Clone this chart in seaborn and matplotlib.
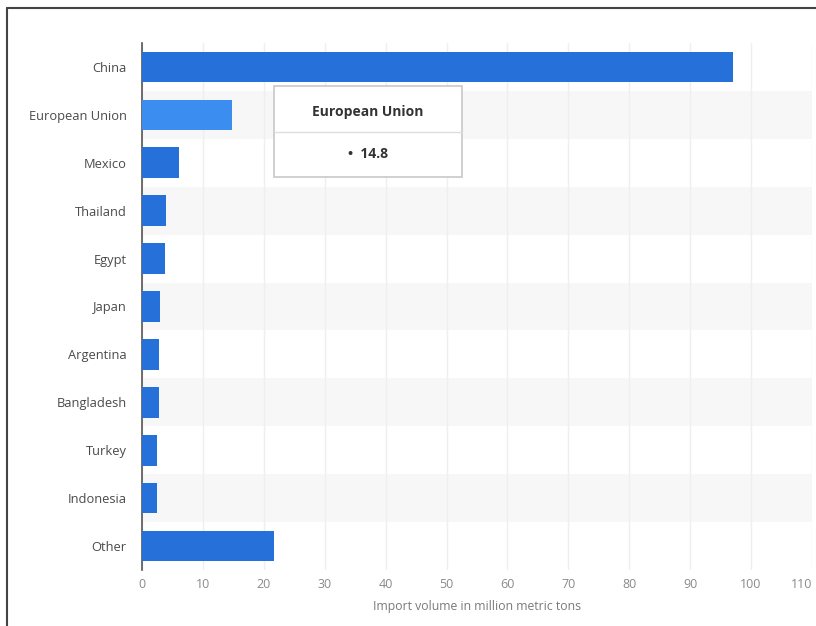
import matplotlib
matplotlib.use("Agg")
import matplotlib.pyplot as plt
import seaborn as sns
import pandas as pd
from matplotlib.patches import Rectangle
from matplotlib.lines import Line2D

countries = ["China", "European Union", "Mexico", "Thailand", "Egypt", "Japan",
             "Argentina", "Bangladesh", "Turkey", "Indonesia", "Other"]
volumes = [97.0, 14.8, 6.1, 3.9, 3.8, 3.0, 2.8, 2.8, 2.4, 2.4, 21.6]
x_ticks = [0, 10, 20, 30, 40, 50, 60, 70, 80, 90, 100, 110]
x_label = "Import volume in million metric tons"
highlight = "European Union"

sns.set_theme(style="white")
plt.rcParams['font.family'] = ['Open Sans', 'DejaVu Sans']

W, H = 816, 626
fig = plt.figure(figsize=(W / 100, H / 100), dpi=100)
ax = fig.add_axes([142 / W, 1 - 570 / H, (812 - 142) / W, (570 - 43) / H])

df = pd.DataFrame({"country": countries, "volume": volumes})
main_c = "#2571d9"
hi_c = "#3b8ef0"
palette = {c: (hi_c if c == highlight else main_c) for c in countries}

# alternating row bands
for i in range(len(countries)):
    if i % 2 == 1:
        ax.axhspan(i - 0.5, i + 0.5, color="#f7f7f7", zorder=0, lw=0)

sns.barplot(data=df, x="volume", y="country", hue="country", palette=palette,
            order=countries, width=0.64, legend=False, ax=ax, zorder=3,
            saturation=1, linewidth=0)

ax.set_xlim(0, 110)
ax.set_ylim(len(countries) - 0.5, -0.5)
ax.set_xticks(x_ticks)
ax.set_xticklabels([str(t) for t in x_ticks])
ax.xaxis.grid(True, color="#efefef", lw=1, zorder=1)
ax.set_axisbelow(True)
for s in ["top", "right", "bottom"]:
    ax.spines[s].set_visible(False)
ax.spines["left"].set_color("#555555")
ax.spines["left"].set_linewidth(1.2)
ax.tick_params(axis="x", colors="#8a8a8a", labelsize=9, length=0, pad=6)
ax.tick_params(axis="y", colors="#4a4a4a", labelsize=9.3, length=0, pad=11)
ax.set_xlabel(x_label, color="#7a7a7a", fontsize=8.8, labelpad=6)
ax.set_ylabel("")
lbls = ax.get_xticklabels()
lbls[-1].set_ha("right")

# outer frame
fig.add_artist(Line2D([7 / W, 7 / W], [0, 1 - 8 / H], color="#444444", lw=1.5))
fig.add_artist(Line2D([7 / W, 1], [1 - 8 / H, 1 - 8 / H], color="#444444", lw=1.5))

# tooltip
bx0, bx1, by0, by1 = 274, 462, 86, 177
fig.add_artist(Rectangle((bx0 / W, 1 - by1 / H), (bx1 - bx0) / W, (by1 - by0) / H,
                         facecolor="white", edgecolor="#c8c8c8", lw=1.2, zorder=10))
fig.add_artist(Line2D([bx0 / W, bx1 / W], [1 - 132 / H, 1 - 132 / H],
                      color="#dddddd", lw=1, zorder=11))
fig.text((bx0 + bx1) / 2 / W, 1 - 112 / H, highlight, ha="center", va="center",
         fontsize=10, fontweight="bold", color="#333333", zorder=12)
fig.text((bx0 + bx1) / 2 / W, 1 - 154 / H, "•  " + str(volumes[countries.index(highlight)]),
         ha="center", va="center", fontsize=10, fontweight="bold", color="#333333", zorder=12)

fig.savefig("out.png", dpi=100)
